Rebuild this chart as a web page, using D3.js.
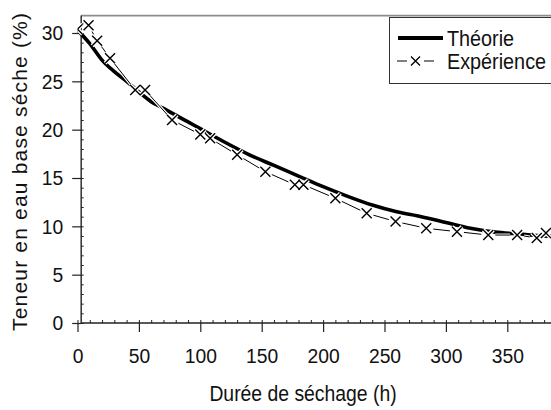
<!DOCTYPE html>
<html>
<head>
<meta charset="utf-8">
<script src="https://cdn.jsdelivr.net/npm/d3@7"></script>
<style>
  html, body { margin: 0; padding: 0; background: #fff; }
  svg { display: block; }
</style>
</head>
<body>
<div id="chart"></div>
<script>
// Courbe de séchage : théorie (trait épais) + expérience (croix)

// Données
const theoHours  = [0, 10, 20, 30, 40, 50, 60, 70, 80, 90, 100, 120, 140, 160, 180, 200, 220, 240, 260, 280, 300, 320, 340, 360, 380, 400];
const theoValues = [30.3, 28.9, 27.2, 26.0, 25.0, 23.9, 22.9, 22.2, 21.5, 20.8, 20.1, 18.7, 17.4, 16.3, 15.2, 14.1, 13.1, 12.2, 11.5, 11.0, 10.4, 9.8, 9.4, 9.2, 9.0, 8.9];

const expHours  = [0, 9, 16, 26.5, 47, 55, 77, 100, 108, 130, 153, 177, 184, 210, 235.5, 259, 284, 309, 334.5, 358, 374, 381.5];
const expValues = [30.4, 30.8, 29.2, 27.4, 24.1, 24.1, 21.0, 19.5, 19.1, 17.4, 15.65, 14.3, 14.3, 12.9, 11.35, 10.5, 9.8, 9.45, 9.1, 9.1, 8.8, 9.3];

const xTicks = [0, 50, 100, 150, 200, 250, 300, 350];
const yTicks = [0, 5, 10, 15, 20, 25, 30];

const legendLabels = ["Théorie", "Expérience"];

const width = 551;
const height = 410;

// pas de police étroite installée : Liberation Sans compressée horizontalement
const font = "'Liberation Sans', Arial, sans-serif";
const squeeze = 0.88;
const squeezeTicks = 0.92;

const svg = d3.select("#chart")
  .append("svg")
  .attr("width", width)
  .attr("height", height);

const x = d3.scaleLinear().domain([0, 400]).range([77.5, 568.7]);
const y = d3.scaleLinear().domain([0, 30]).range([323, 33]);

const axisX = x(3);       // l'axe vertical coupe l'axe des x un peu après 0
const yTop = y(31.8);     // bord supérieur de la zone de tracé

// Bord supérieur (gris)
svg.append("line")
  .attr("x1", axisX).attr("x2", width)
  .attr("y1", yTop).attr("y2", yTop)
  .attr("stroke", "#8c8c8c")
  .attr("stroke-width", 1.6);

// Axe X : petites graduations (intérieur)
svg.append("g")
  .attr("transform", `translate(0,${y(0)})`)
  .call(d3.axisTop(x).tickValues(d3.range(0, 400, 10)).tickSize(3).tickFormat(""))
  .call(g => g.select(".domain").remove())
  .selectAll("line").attr("stroke", "#222").attr("stroke-width", 1);

// Axe X : grandes graduations + libellés
const gx = svg.append("g")
  .attr("transform", `translate(0,${y(0)})`)
  .call(d3.axisBottom(x).tickValues(xTicks).tickSize(9).tickPadding(16));
gx.select(".domain").remove();
gx.selectAll("line").attr("stroke", "#222").attr("stroke-width", 1.2);
gx.selectAll("text")
  .attr("font-family", font)
  .attr("font-size", 21)
  .attr("fill", "#111")
  .attr("transform", `scale(${squeezeTicks},1)`);

// Ligne de l'axe X
svg.append("line")
  .attr("x1", axisX).attr("x2", width)
  .attr("y1", y(0)).attr("y2", y(0))
  .attr("stroke", "#222")
  .attr("stroke-width", 1.4);

// Axe Y : petites graduations (intérieur)
svg.append("g")
  .attr("transform", `translate(${axisX},0)`)
  .call(d3.axisRight(y).tickValues(d3.range(0, 32, 1)).tickSize(2.5).tickFormat(""))
  .call(g => g.select(".domain").remove())
  .selectAll("line").attr("stroke", "#222").attr("stroke-width", 1);

// Axe Y : grandes graduations + libellés
const gy = svg.append("g")
  .attr("transform", `translate(${axisX},0)`)
  .call(d3.axisLeft(y).tickValues(yTicks).tickSize(9));
gy.select(".domain").remove();
gy.selectAll("line").attr("stroke", "#222").attr("stroke-width", 1.2);
gy.selectAll("text")
  .attr("x", -18 / squeezeTicks)
  .attr("font-family", font)
  .attr("font-size", 21)
  .attr("fill", "#111")
  .attr("transform", `scale(${squeezeTicks},1)`);

svg.append("line")
  .attr("x1", axisX).attr("x2", axisX)
  .attr("y1", yTop).attr("y2", y(0))
  .attr("stroke", "#222")
  .attr("stroke-width", 1.4);

// Titres des axes
svg.append("text")
  .attr("transform", `translate(303,401) scale(${squeeze},1)`)
  .attr("text-anchor", "middle")
  .attr("font-family", font)
  .attr("font-size", 22)
  .attr("fill", "#111")
  .text("Durée de séchage (h)");

svg.append("text")
  .attr("transform", "translate(27,172) rotate(-90)")
  .attr("text-anchor", "middle")
  .attr("font-family", font)
  .attr("font-size", 21)
  .attr("textLength", 318)
  .attr("lengthAdjust", "spacing")
  .attr("fill", "#111")
  .text("Teneur en eau base séche (%)");

// Zone de tracé (coupée à x = 0)
svg.append("clipPath")
  .attr("id", "plot-clip")
  .append("rect")
  .attr("x", x(0))
  .attr("y", 0)
  .attr("width", width - x(0))
  .attr("height", y(0) + 10);

const plot = svg.append("g").attr("clip-path", "url(#plot-clip)");

const theo = theoHours.map((h, i) => ({ h, v: theoValues[i] }));
const exp  = expHours.map((h, i) => ({ h, v: expValues[i] }));

// Courbe théorique
plot.append("path")
  .datum(theo)
  .attr("fill", "none")
  .attr("stroke", "#000")
  .attr("stroke-width", 3.6)
  .attr("d", d3.line().x(d => x(d.h)).y(d => y(d.v)).curve(d3.curveMonotoneX));

// Segments expérimentaux, avec un espace autour des croix
const gap = 7;
const segs = [];
for (let i = 0; i < exp.length - 1; i++) {
  const x1 = x(exp[i].h), y1 = y(exp[i].v);
  const x2 = x(exp[i + 1].h), y2 = y(exp[i + 1].v);
  const len = Math.hypot(x2 - x1, y2 - y1);
  if (len <= gap * 2) continue;
  const ux = (x2 - x1) / len, uy = (y2 - y1) / len;
  segs.push({ x1: x1 + ux * gap, y1: y1 + uy * gap, x2: x2 - ux * gap, y2: y2 - uy * gap });
}

[["#fff", 3], ["#000", 1]].forEach(([c, w]) => {
  plot.selectAll(null)
    .data(segs)
    .join("line")
    .attr("x1", d => d.x1).attr("y1", d => d.y1)
    .attr("x2", d => d.x2).attr("y2", d => d.y2)
    .attr("stroke", c)
    .attr("stroke-width", w);
});

// Croix
const cross = (cx, cy, r) => `M${cx - r},${cy - r}L${cx + r},${cy + r}M${cx - r},${cy + r}L${cx + r},${cy - r}`;

[["#fff", 4], ["#000", 1.4]].forEach(([c, w]) => {
  plot.selectAll(null)
    .data(exp)
    .join("path")
    .attr("d", d => cross(x(d.h), y(d.v), 5))
    .attr("fill", "none")
    .attr("stroke", c)
    .attr("stroke-width", w);
});

// Légende
const legend = svg.append("g");
legend.append("rect")
  .attr("x", 389.5).attr("y", 17.5)
  .attr("width", 200).attr("height", 66)
  .attr("fill", "#fff")
  .attr("stroke", "#333")
  .attr("stroke-width", 1);

legend.append("line")
  .attr("x1", 398).attr("x2", 443)
  .attr("y1", 38).attr("y2", 38)
  .attr("stroke", "#000")
  .attr("stroke-width", 4);

legend.append("line")
  .attr("x1", 397).attr("x2", 407)
  .attr("y1", 61).attr("y2", 61)
  .attr("stroke", "#000").attr("stroke-width", 1);
legend.append("line")
  .attr("x1", 424).attr("x2", 434)
  .attr("y1", 61).attr("y2", 61)
  .attr("stroke", "#000").attr("stroke-width", 1);
legend.append("path")
  .attr("d", cross(415.5, 61, 4.5))
  .attr("fill", "none")
  .attr("stroke", "#000")
  .attr("stroke-width", 1.3);

legend.selectAll("text.leg")
  .data(legendLabels)
  .join("text")
  .attr("class", "leg")
  .attr("transform", (d, i) => `translate(447,${46 + i * 23}) scale(${squeeze},1)`)
  .attr("font-family", font)
  .attr("font-size", 22.5)
  .attr("fill", "#111")
  .text(d => d);
</script>
</body>
</html>
